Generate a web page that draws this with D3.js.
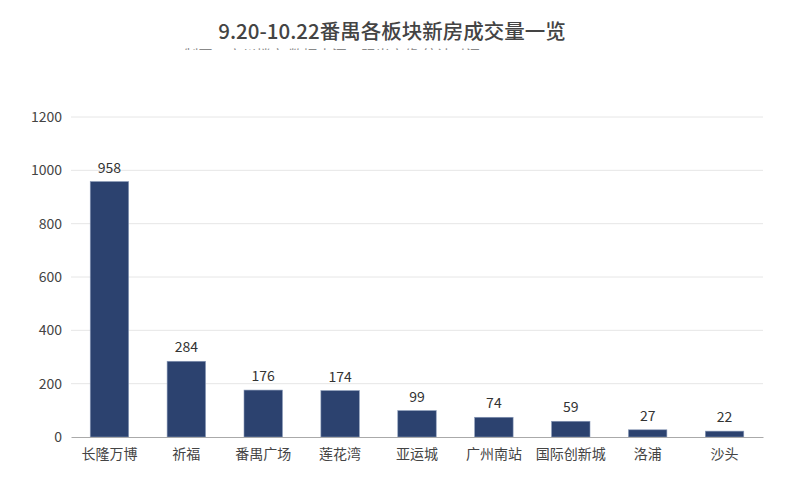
<!DOCTYPE html>
<html><head><meta charset="utf-8">
<script src="https://cdn.jsdelivr.net/npm/d3@7"></script>
<style>body{margin:0;background:#fff}svg{display:block;font-family:"Noto Sans CJK SC","Noto Sans",sans-serif}</style>
</head><body><svg id="c" width="800" height="501"></svg>
<script>
const categories = ["长隆万博","祈福","番禺广场","莲花湾","亚运城","广州南站","国际创新城","洛浦","沙头"];
const values = [958,284,176,174,99,74,59,27,22];
const yTicks = [0,200,400,600,800,1000,1200];
const title = "9.20-10.22番禺各板块新房成交量一览";
const subtitle = "制图：广州楼市  数据来源：阳光家缘  统计时间：2020.9.20-10.22";

const svg = d3.select("#c");
const m = {l:71, r:37, t:117, b:64};
const W = 800, H = 501;
const x = d3.scaleBand().domain(categories).range([m.l, W-m.r]).paddingInner(0.5).paddingOuter(0.25);
const y = d3.scaleLinear().domain([0,1200]).range([H-m.b, m.t]);

// title
svg.append("text").attr("x",392).attr("y",39).attr("text-anchor","middle")
  .attr("font-size",20.5).attr("font-weight",500).attr("fill","#444").text(title);
svg.append("clipPath").attr("id","sc").append("rect").attr("x",0).attr("y",41).attr("width",800).attr("height",9);
svg.append("text").attr("x",392).attr("y",61).attr("text-anchor","middle").attr("clip-path","url(#sc)")
  .attr("font-size",14.5).attr("fill","#888").text(subtitle);

// grid
svg.append("g").selectAll("line").data(yTicks.filter(d=>d>0)).join("line")
  .attr("x1",m.l).attr("x2",W-m.r).attr("y1",d=>y(d)).attr("y2",d=>y(d))
  .attr("stroke","#e6e6e6").attr("stroke-width",1);

const ya = svg.append("g").attr("transform",`translate(${m.l},0)`)
  .call(d3.axisLeft(y).tickValues(yTicks).tickSize(0).tickPadding(9).tickFormat(d3.format("d")));
ya.select(".domain").remove();
ya.selectAll("text").attr("font-size",14).attr("fill","#444").attr("font-family","'Noto Sans CJK SC',sans-serif");

// bars
svg.append("g").selectAll("rect").data(values).join("rect")
  .attr("x",(d,i)=>x(categories[i])).attr("width",x.bandwidth())
  .attr("y",d=>y(d)).attr("height",d=>y(0)-y(d))
  .attr("fill","#2c426f").attr("stroke","#8a9ab8").attr("stroke-width",0.6);

svg.append("g").selectAll("text").data(values).join("text")
  .attr("x",(d,i)=>x(categories[i])+x.bandwidth()/2).attr("y",d=>y(d)-9)
  .attr("text-anchor","middle").attr("font-size",14).attr("fill","#333").text(d=>d);

const xa = svg.append("g").attr("transform",`translate(0,${y(0)})`)
  .call(d3.axisBottom(x).tickSize(0).tickPadding(12));
xa.select(".domain").attr("stroke","#aaa");
xa.selectAll("text").attr("font-size",14).attr("fill","#444").attr("font-family","'Noto Sans CJK SC',sans-serif");
</script></body></html>
